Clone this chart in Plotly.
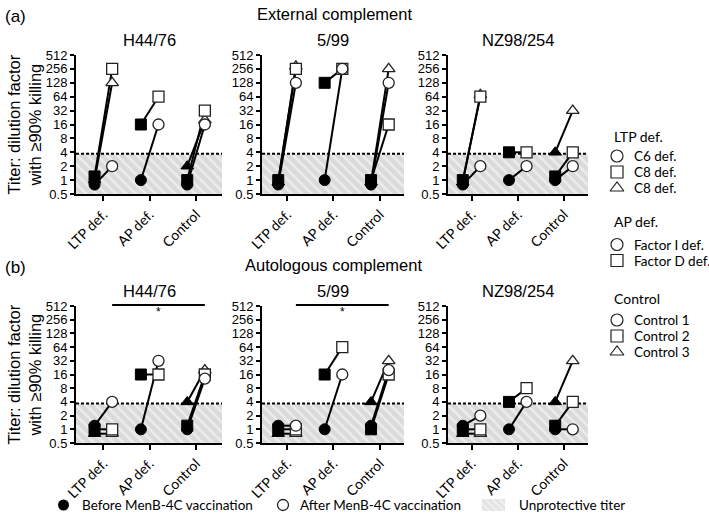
import plotly.graph_objects as go
import math

W, H = 709, 522

# ---------------- data ----------------
categories = ["LTP def.", "AP def.", "Control"]
strains = ["H44/76", "5/99", "NZ98/254"]
tick_vals = [0.5, 1, 2, 4, 8, 16, 32, 64, 128, 256, 512]
tick_text = ["0.5", "1", "2", "4", "8", "16", "32", "64", "128", "256", "512"]
threshold = 3.7  # unprotective titer limit

# member symbols per group (order matches the value lists below)
ltp_symbols = ["circle", "square", "triangle-up"]      # C6 def., C8 def., C8 def.
ap_symbols = ["circle", "square"]                       # Factor I def., Factor D def.
ctrl_symbols = ["circle", "square", "triangle-up"]      # Control 1, 2, 3

# (a) External complement
ext_h44_ltp_before = [0.8, 1.2, 1.0]
ext_h44_ltp_after = [2, 256, 128]
ext_h44_ap_before = [1, 16]
ext_h44_ap_after = [16, 64]
ext_h44_ctrl_before = [0.8, 1.0, 2]
ext_h44_ctrl_after = [16, 32, 20]

ext_599_ltp_before = [0.8, 1.0, 0.9]
ext_599_ltp_after = [128, 256, 290]
ext_599_ap_before = [1, 128]
ext_599_ap_after = [256, 256]
ext_599_ctrl_before = [0.8, 1.0, 0.9]
ext_599_ctrl_after = [128, 16, 256]

ext_nz_ltp_before = [0.8, 1.0, 0.9]
ext_nz_ltp_after = [2, 64, 70]
ext_nz_ap_before = [1, 4]
ext_nz_ap_after = [2, 4]
ext_nz_ctrl_before = [1.0, 1.2, 4]
ext_nz_ctrl_after = [2, 4, 32]

# (b) Autologous complement
aut_h44_ltp_before = [1.2, 1.0, 0.8]
aut_h44_ltp_after = [4, 1.0, 0.8]
aut_h44_ap_before = [1, 16]
aut_h44_ap_after = [32, 16]
aut_h44_ctrl_before = [1.0, 1.2, 4]
aut_h44_ctrl_after = [13, 16, 20]

aut_599_ltp_before = [1.2, 1.0, 0.8]
aut_599_ltp_after = [1.2, 1.0, 0.8]
aut_599_ap_before = [1, 16]
aut_599_ap_after = [16, 64]
aut_599_ctrl_before = [1.2, 1.0, 4]
aut_599_ctrl_after = [20, 16, 32]

aut_nz_ltp_before = [1.2, 1.0, 0.8]
aut_nz_ltp_after = [2, 1.0, 0.8]
aut_nz_ap_before = [1, 4]
aut_nz_ap_after = [4, 8]
aut_nz_ctrl_before = [1.0, 1.2, 4]
aut_nz_ctrl_after = [1, 4, 32]

# significance bars (b): from LTP-after to Control-after
sig_panels = ["H44/76", "5/99"]

legend_groups = [
    ("LTP def.", ["C6 def.", "C8 def.", "C8 def."], ltp_symbols),
    ("AP def.", ["Factor I def.", "Factor D def."], ap_symbols),
    ("Control", ["Control 1", "Control 2", "Control 3"], ctrl_symbols),
]

panels = {
    ("a", 0): [(ext_h44_ltp_before, ext_h44_ltp_after), (ext_h44_ap_before, ext_h44_ap_after), (ext_h44_ctrl_before, ext_h44_ctrl_after)],
    ("a", 1): [(ext_599_ltp_before, ext_599_ltp_after), (ext_599_ap_before, ext_599_ap_after), (ext_599_ctrl_before, ext_599_ctrl_after)],
    ("a", 2): [(ext_nz_ltp_before, ext_nz_ltp_after), (ext_nz_ap_before, ext_nz_ap_after), (ext_nz_ctrl_before, ext_nz_ctrl_after)],
    ("b", 0): [(aut_h44_ltp_before, aut_h44_ltp_after), (aut_h44_ap_before, aut_h44_ap_after), (aut_h44_ctrl_before, aut_h44_ctrl_after)],
    ("b", 1): [(aut_599_ltp_before, aut_599_ltp_after), (aut_599_ap_before, aut_599_ap_after), (aut_599_ctrl_before, aut_599_ctrl_after)],
    ("b", 2): [(aut_nz_ltp_before, aut_nz_ltp_after), (aut_nz_ap_before, aut_nz_ap_after), (aut_nz_ctrl_before, aut_nz_ctrl_after)],
}
group_symbols = [ltp_symbols, ap_symbols, ctrl_symbols]

# ---------------- layout geometry (pixels) ----------------
col_px = [(76, 222), (262, 404), (448, 588)]
x_ranges = [(-0.59, 2.56), (-0.54, 2.52), (-0.51, 2.52)]
row_px = {"a": (55, 194), "b": (306, 443)}
OFF = 0.19

def xp(x):
    return x / W

def yp(y):
    return 1 - y / H

TITLE_FONT = "Liberation Sans, Arial, sans-serif"
NUM_FONT = "Liberation Sans, Arial, sans-serif"
CAT_FONT = "Lato, Open Sans, sans-serif"

fig = go.Figure()
layout = dict(
    width=W, height=H, margin=dict(l=0, r=0, t=0, b=0, pad=0, autoexpand=False),
    paper_bgcolor="white", plot_bgcolor="rgba(0,0,0,0)", showlegend=False,
)
annotations = []
shapes = []

sym_order = {"triangle-up": 0, "square": 1, "circle": 2}

idx = 0
for row in ["a", "b"]:
    for c in range(3):
        idx += 1
        xa = "x" if idx == 1 else f"x{idx}"
        ya = "y" if idx == 1 else f"y{idx}"
        xname = "xaxis" if idx == 1 else f"xaxis{idx}"
        yname = "yaxis" if idx == 1 else f"yaxis{idx}"
        x0, x1 = x_ranges[c]
        # shading
        fig.add_trace(go.Scatter(
            x=[x0, x1, x1, x0, x0], y=[0.5, 0.5, threshold, threshold, 0.5],
            mode="none", fill="toself", fillcolor="#dadada",
            fillpattern=dict(shape="\\", fgcolor="white", bgcolor="#dadada", size=7, solidity=0.35, fillmode="overlay"),
            xaxis=xa, yaxis=ya, hoverinfo="skip"))
        # threshold dotted line
        fig.add_trace(go.Scatter(
            x=[x0, x1], y=[threshold, threshold], mode="lines",
            line=dict(color="black", width=2, dash="3px,2px"),
            xaxis=xa, yaxis=ya, hoverinfo="skip"))
        groups = panels[(row, c)]
        # connecting lines
        for gi, (bef, aft) in enumerate(groups):
            for b, a in zip(bef, aft):
                fig.add_trace(go.Scatter(
                    x=[gi - OFF, gi + OFF], y=[b, a], mode="lines",
                    line=dict(color="black", width=2), xaxis=xa, yaxis=ya, hoverinfo="skip"))
        # markers
        pts = []
        for gi, (bef, aft) in enumerate(groups):
            for s, b, a in zip(group_symbols[gi], bef, aft):
                pts.append((sym_order[s], s, gi, b, a))
        pts.sort(key=lambda t: t[0])
        for _, s, gi, b, a in pts:
            fig.add_trace(go.Scatter(
                x=[gi - OFF], y=[b], mode="markers",
                marker=dict(symbol=s, size=11, color="black", line=dict(color="black", width=1)),
                xaxis=xa, yaxis=ya, cliponaxis=False))
        for _, s, gi, b, a in pts:
            fig.add_trace(go.Scatter(
                x=[gi + OFF], y=[a], mode="markers",
                marker=dict(symbol=s, size=11, color="white", line=dict(color="#222", width=1.3)),
                xaxis=xa, yaxis=ya, cliponaxis=False))

        px0, px1 = col_px[c]
        py0, py1 = row_px[row]
        layout[xname] = dict(
            domain=[xp(px0), xp(px1)], range=[x0, x1], anchor=ya,
            showline=True, linecolor="black", linewidth=2, ticks="outside", ticklen=5, tickwidth=2,
            tickcolor="black", tickvals=[0, 1, 2], ticktext=categories, tickangle=-45,
            tickfont=dict(family=CAT_FONT, size=14, color="black"), showgrid=False, zeroline=False,
            fixedrange=True, automargin=False)
        layout[yname] = dict(
            domain=[yp(py1), yp(py0)], type="log", range=[math.log10(0.5), math.log10(512)], anchor=xa,
            showline=True, linecolor="black", linewidth=2, ticks="outside", ticklen=4, tickwidth=2,
            tickcolor="black", tickvals=tick_vals, ticktext=tick_text,
            tickfont=dict(family=NUM_FONT, size=13, color="black"), showgrid=False, zeroline=False,
            fixedrange=True, automargin=False)
        # strain title
        annotations.append(dict(
            x=xp((px0 + px1) / 2), y=yp(py0 - 15), xref="paper", yref="paper", text=strains[c],
            showarrow=False, xanchor="center", yanchor="middle",
            font=dict(family=TITLE_FONT, size=16.5, color="black")))
        # significance
        if row == "b" and strains[c] in sig_panels:
            shapes.append(dict(type="line", xref=xa, yref="paper", x0=0 + OFF, x1=2 + OFF,
                               y0=yp(py0 - 1), y1=yp(py0 - 1), line=dict(color="black", width=2)))
            annotations.append(dict(
                x=1 + OFF, y=math.log10(370), xref=xa, yref=ya, text="*", showarrow=False,
                xanchor="center", yanchor="middle", font=dict(family=TITLE_FONT, size=12, color="black")))

# y-axis titles
for row in ["a", "b"]:
    py0, py1 = row_px[row]
    annotations.append(dict(
        x=xp(24), y=yp((py0 + py1) / 2), xref="paper", yref="paper",
        text="Titer: dilution factor<br>with ≥90% killing", textangle=-90, showarrow=False,
        xanchor="center", yanchor="middle", align="center",
        font=dict(family=TITLE_FONT, size=16.5, color="black")))

# section labels and headings
for txt, x, y, anc in [("(a)", 3, 16, "left"), ("(b)", 3, 267, "left")]:
    annotations.append(dict(x=xp(x), y=yp(y), xref="paper", yref="paper", text=txt, showarrow=False,
                            xanchor=anc, yanchor="middle", font=dict(family=TITLE_FONT, size=17, color="black")))
for txt, x, y in [("External complement", 334, 14), ("Autologous complement", 333, 265)]:
    annotations.append(dict(x=xp(x), y=yp(y), xref="paper", yref="paper", text=txt, showarrow=False,
                            xanchor="center", yanchor="middle", font=dict(family=TITLE_FONT, size=16.5, color="black")))

# ---------------- legends (overlay axis in pixel units) ----------------
layout["xaxis7"] = dict(domain=[0, 1], range=[0, W], visible=False, anchor="y7", fixedrange=True)
layout["yaxis7"] = dict(domain=[0, 1], range=[H, 0], visible=False, anchor="x7", fixedrange=True)

header_y = [136.7, 221.7, 298.3]
first_item_y = [156.0, 244.5, 320.0]
item_step = 16.0
for (head, labels, syms), hy, fy in zip(legend_groups, header_y, first_item_y):
    annotations.append(dict(x=611.5, y=hy, xref="x7", yref="y7", text=head, showarrow=False,
                            xanchor="left", yanchor="middle", font=dict(family=CAT_FONT, size=14, color="black")))
    for k, (lab, s) in enumerate(zip(labels, syms)):
        yy = fy + k * item_step
        fig.add_trace(go.Scatter(x=[617], y=[yy], mode="markers", xaxis="x7", yaxis="y7",
                                 marker=dict(symbol=s, size=12, color="white", line=dict(color="#222", width=1.2)),
                                 hoverinfo="skip", cliponaxis=False))
        annotations.append(dict(x=632, y=yy, xref="x7", yref="y7", text=lab, showarrow=False,
                                xanchor="left", yanchor="middle", font=dict(family=CAT_FONT, size=13.5, color="black")))

# bottom legend
bottom_y = 505
fig.add_trace(go.Scatter(x=[63.5], y=[bottom_y], mode="markers", xaxis="x7", yaxis="y7",
                         marker=dict(symbol="circle", size=11, color="black"), hoverinfo="skip"))
fig.add_trace(go.Scatter(x=[283], y=[bottom_y], mode="markers", xaxis="x7", yaxis="y7",
                         marker=dict(symbol="circle", size=11, color="white", line=dict(color="#222", width=1.3)),
                         hoverinfo="skip"))
fig.add_trace(go.Scatter(x=[482, 505, 505, 482, 482], y=[499, 499, 511, 511, 499], mode="none", fill="toself",
                         fillcolor="#e3e3e3", xaxis="x7", yaxis="y7",
                         fillpattern=dict(shape="\\", fgcolor="white", bgcolor="#e3e3e3", size=5, solidity=0.35, fillmode="overlay"),
                         hoverinfo="skip"))
for txt, x in [("Before MenB-4C vaccination", 80), ("After MenB-4C vaccination", 298), ("Unprotective titer", 517)]:
    annotations.append(dict(x=x, y=bottom_y, xref="x7", yref="y7", text=txt, showarrow=False,
                            xanchor="left", yanchor="middle", font=dict(family=CAT_FONT, size=13.5, color="black")))

layout["annotations"] = annotations
layout["shapes"] = shapes
fig.update_layout(**layout)
fig.write_html("out.html", config={"displayModeBar": False, "staticPlot": True},
               post_script="document.body.style.margin='0px';document.body.style.overflow='hidden';")
